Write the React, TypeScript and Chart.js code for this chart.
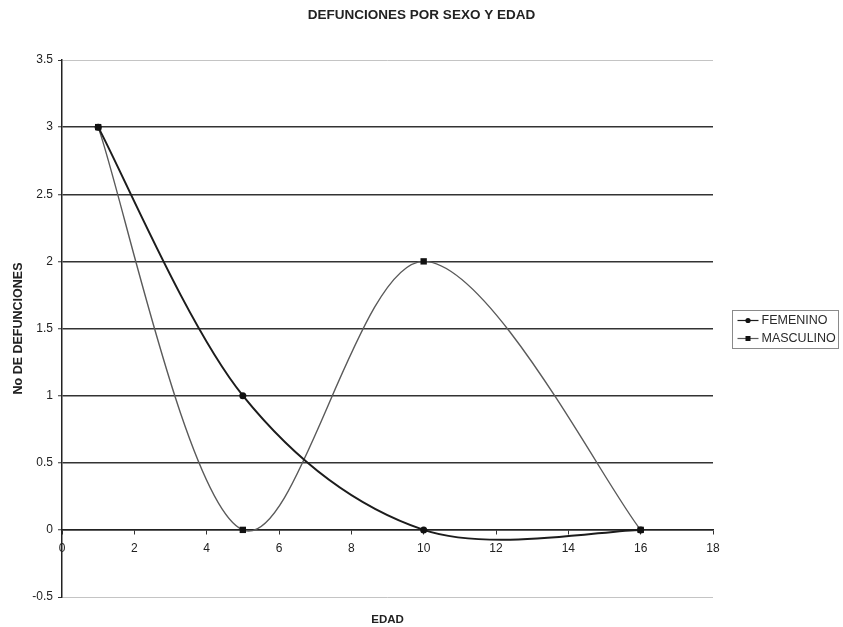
import React, { useEffect, useRef } from 'react';
import { Chart, registerables } from 'chart.js';

Chart.register(...registerables);

const edades = [1, 5, 10, 16];
const femenino = [3, 1, 0, 0];
const masculino = [3, 0, 2, 0];
const seriesNames = ['FEMENINO', 'MASCULINO'];
const xTickValues = [0, 2, 4, 6, 8, 10, 12, 14, 16, 18];
const yTickValues = [-0.5, 0, 0.5, 1, 1.5, 2, 2.5, 3, 3.5];
const titleText = 'DEFUNCIONES POR SEXO Y EDAD';
const xTitle = 'EDAD';
const yTitle = 'No DE DEFUNCIONES';

const FONT = "'Liberation Sans', Arial, sans-serif";
const lineColors = ['#1c1c1c', '#5a5a5a'];
const lineWidths = [2, 1.4];
const pointStyles = ['circle', 'rect'];

// Spreadsheet-style smoothing (uniform Catmull-Rom, 1/6 of neighbour span)
const spreadsheetSmooth = {
  id: 'spreadsheetSmooth',
  beforeDatasetsDraw(chart: any) {
    chart.data.datasets.forEach((_ds: any, i: number) => {
      const meta = chart.getDatasetMeta(i);
      const line = meta.dataset;
      if (!line) return;
      line.updateControlPoints(chart.chartArea, 'x');
      const pts = meta.data;
      const n = pts.length;
      for (let k = 0; k < n; k++) {
        const p = pts[k];
        const prev = pts[Math.max(0, k - 1)];
        const next = pts[Math.min(n - 1, k + 1)];
        const dx = (next.x - prev.x) / 6;
        const dy = (next.y - prev.y) / 6;
        p.cp1x = p.x - dx;
        p.cp1y = p.y - dy;
        p.cp2x = p.x + dx;
        p.cp2y = p.y + dy;
      }
      line._path = undefined;
    });
  },
};

const boxLegend = {
  id: 'boxLegend',
  afterDraw(chart: any) {
    const { ctx, chartArea } = chart;
    const w = 106;
    const h = 38;
    const left = Math.round(chartArea.right + 19) + 0.5;
    const top = Math.round((chartArea.top + chartArea.bottom) / 2 - h / 2) + 0.5;
    ctx.save();
    ctx.strokeStyle = '#8a8a8a';
    ctx.lineWidth = 1;
    ctx.strokeRect(left, top, w, h);
    chart.data.datasets.forEach((ds: any, i: number) => {
      const y = top + 10 + i * 18;
      ctx.strokeStyle = ds.borderColor;
      ctx.lineWidth = 1.2;
      ctx.beginPath();
      ctx.moveTo(left + 5, y);
      ctx.lineTo(left + 26, y);
      ctx.stroke();
      ctx.fillStyle = '#111';
      if (ds.pointStyle === 'rect') {
        ctx.fillRect(left + 13, y - 2.5, 5, 5);
      } else {
        ctx.beginPath();
        ctx.arc(left + 15.5, y, 2.6, 0, Math.PI * 2);
        ctx.fill();
      }
      ctx.fillStyle = '#2a2a2a';
      ctx.font = `12.5px ${FONT}`;
      ctx.textBaseline = 'middle';
      ctx.textAlign = 'left';
      ctx.fillText(ds.label, left + 29, y + 0.5);
    });
    ctx.restore();
  },
};

const isEdge = (v: number) => v === 3.5 || v === -0.5;

export default function App() {
  const ref = useRef<HTMLCanvasElement | null>(null);

  useEffect(() => {
    document.body.style.margin = '0';
    const canvas = ref.current;
    if (!canvas) return;
    const series = [femenino, masculino];
    const chart = new Chart(canvas, {
      type: 'line',
      data: {
        datasets: series.map((vals, i) => ({
          label: seriesNames[i],
          data: edades.map((x, j) => ({ x, y: vals[j] })),
          borderColor: lineColors[i],
          borderWidth: lineWidths[i],
          backgroundColor: '#111',
          pointBackgroundColor: '#111',
          pointBorderColor: '#111',
          pointBorderWidth: 0,
          pointStyle: pointStyles[i],
          pointRadius: i === 0 ? 3.5 : 4.5,
          tension: 0.4,
          fill: false,
        })),
      },
      options: {
        responsive: false,
        animation: false,
        layout: { padding: 0 },
        plugins: {
          legend: { display: false },
          tooltip: { enabled: false },
          title: {
            display: true,
            text: titleText,
            color: '#222',
            font: { family: FONT, size: 13.5, weight: 'bold' },
            padding: { top: 7, bottom: 36.8 },
          },
        },
        scales: {
          x: {
            type: 'linear',
            min: 0,
            max: 18,
            position: { y: 0 } as any,
            afterBuildTicks: (s: any) => {
              s.ticks = xTickValues.map((v) => ({ value: v }));
            },
            afterFit: (s: any) => {
              s.height = 0;
            },
            ticks: {
              color: '#222',
              font: { family: FONT, size: 12 },
              padding: 8,
              maxRotation: 0,
              autoSkip: false,
            },
            grid: {
              drawOnChartArea: false,
              drawTicks: true,
              tickLength: 4,
              tickColor: '#333',
              tickWidth: 1,
            },
            border: { display: true, color: '#222', width: 1.5 },
          },
          x2: {
            type: 'linear',
            min: 0,
            max: 18,
            position: 'bottom',
            ticks: { display: false },
            grid: { display: false, drawTicks: false },
            border: { display: false },
            afterFit: (s: any) => {
              s.height = 30;
            },
            title: {
              display: true,
              text: xTitle,
              color: '#222',
              font: { family: FONT, size: 11.5, weight: 'bold' },
              padding: { top: 0, bottom: 0 },
            },
          },
          y: {
            type: 'linear',
            min: -0.5,
            max: 3.5,
            afterBuildTicks: (s: any) => {
              s.ticks = yTickValues.map((v) => ({ value: v }));
            },
            afterFit: (s: any) => {
              s.width = 62;
            },
            ticks: {
              color: '#222',
              font: { family: FONT, size: 12 },
              padding: 5,
              callback: (v: any) => String(v),
            },
            grid: {
              color: (c: any) => (c.tick && isEdge(c.tick.value) ? '#c4c4c4' : '#333'),
              lineWidth: (c: any) => (c.tick && isEdge(c.tick.value) ? 1 : 1.5),
              borderDash: (c: any) => (c.tick && isEdge(c.tick.value) ? [4, 3] : []),
              tickLength: 4,
              tickColor: '#333',
              tickWidth: 1,
            } as any,
            border: { display: true, color: '#222', width: 1.5 },
            title: {
              display: true,
              text: yTitle,
              color: '#222',
              font: { family: FONT, size: 12.5, weight: 'bold' },
              padding: { top: 11, bottom: 0 },
            },
          },
          yRightSpace: {
            type: 'linear',
            position: 'right',
            min: 0,
            max: 1,
            ticks: { display: false },
            grid: { display: false, drawTicks: false },
            border: { display: false },
            afterFit: (s: any) => {
              s.width = 130;
            },
          },
        },
      },
      plugins: [spreadsheetSmooth, boxLegend],
    } as any);
    return () => chart.destroy();
  }, []);

  return (
    <div style={{ width: 843, height: 627, background: '#fff' }}>
      <canvas ref={ref} width={843} height={627} />
    </div>
  );
}
